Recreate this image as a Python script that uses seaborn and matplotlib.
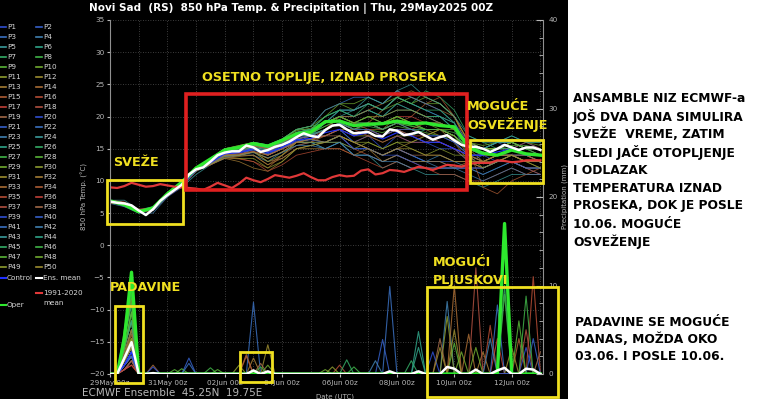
import matplotlib
matplotlib.use("Agg")

import numpy as np
import pandas as pd
import matplotlib.pyplot as plt
import seaborn as sns
from matplotlib.patches import Rectangle
from matplotlib.lines import Line2D
from matplotlib.ticker import MultipleLocator

# time axis = days since 29May2025 00z
steps_6h = np.arange(61) * 0.25
steps_12h = np.arange(31) * 0.5

date_ticks = [0, 2, 4, 6, 8, 10, 12, 14]
date_labels = ['29May 00z', '31May 00z', '02Jun 00z', '04Jun 00z',
               '06Jun 00z', '08Jun 00z', '10Jun 00z', '12Jun 00z']

# 850 hPa temperature, 6-hourly
ens_mean_t = [6.8, 6.6, 6.5, 6.2, 5.4, 4.7, 5.6, 6.9, 7.8, 8.6, 9.4, 11.0,
              11.8, 12.1, 13.0, 14.0, 14.4, 14.6, 14.6, 15.5, 15.2, 14.5, 14.8, 15.3,
              15.6, 16.1, 16.8, 17.4, 17.0, 16.8, 17.9, 18.6, 18.7, 18.0, 17.4, 17.5,
              17.6, 17.0, 16.9, 18.0, 17.8, 17.1, 17.3, 17.6, 17.0, 16.4, 16.8, 17.1,
              16.3, 15.6, 15.3, 15.3, 15.0, 14.5, 15.0, 15.6, 15.2, 14.8, 15.2, 15.2,
              14.8]
clim_t = [9.0, 8.9, 9.2, 9.7, 9.4, 9.1, 9.2, 9.5, 9.3, 9.1, 9.0, 8.9,
          8.8, 8.6, 9.1, 9.7, 9.3, 8.9, 9.6, 10.5, 10.1, 9.8, 10.3, 10.9,
          10.7, 10.5, 10.8, 11.2, 10.6, 10.1, 10.1, 10.6, 10.9, 10.7, 10.8, 11.6,
          11.8, 11.0, 11.2, 11.7, 11.6, 11.4, 11.8, 12.2, 12.0, 11.7, 12.1, 12.5,
          12.4, 12.2, 12.6, 12.8, 12.8, 12.8, 13.2, 13.1, 12.9, 13.0, 13.2, 13.2,
          13.2]

# 12-hourly runs
oper_t = [6.9, 6.3, 5.2, 5.8, 8.0, 9.8, 12.0, 13.4, 14.8, 15.2, 15.8, 15.4, 16.3, 17.3, 17.6,
          19.2, 19.3, 18.6, 18.8, 18.9, 19.3, 18.9, 19.0, 18.6, 18.4, 15.2, 14.3, 14.0, 14.8, 14.2, 14.0]
control_t = [6.8, 6.4, 5.3, 5.5, 7.7, 9.3, 11.7, 12.8, 14.2, 14.4, 15, 14.4, 15.2, 16.4, 16.6,
             17.5, 18, 17, 17.5, 16.5, 17.5, 17, 16, 16, 15, 14, 14, 14.5, 15, 14, 14]
member_t = [
    [7,6.5,5.5,5.5,8,9.5,12, 13,14,14,15,14,15,16,16.5, 17,18,16,17,15,17,16,16,15,15, 13,14,13,14,14,13],
    [6.5,6.5,5,6,7.5,9,11.5, 13,15,15,16,15,16,17,17, 19,21,20,21,20,22,21,20,19,18, 15,15,16,15,16,15],
    [7,6,5.5,5.5,8,10,12, 13.5,14,14.5,15,14,15,16,17, 17,18,16,15,14,15,14,13,13,12, 12,11,12,13,12,11],
    [6.5,6,5,5,7.5,9.5,11.5, 12.5,13.5,14,14,13,14.5,15.5,16, 16,16,15,15,14,15,14,13,14,13, 12,11,12,13,12,12],
    [7,7,5.5,6,8,9,11, 12.5,14,14,15,14.5,15,16,16, 15,16,14,14,12,13,12,11,11,11, 10,9,10,11,11,11],
    [6.8,6.4,5.3,5.6,7.8,9.5,12, 13,14.5,15,15.5,15,16,17.5,18, 20,21,21,22,21,23,22,21,20,18, 16,15,16,17,16,16],
    [7,6.5,5.5,5.5,8,9.5,12, 13.5,15,15,16,15,16.5,18,18, 20,21,21,22,21,23,22,24,23,21, 17,16,15,16,15,14],
    [6.7,6.5,5.3,5.8,7.9,9.3,11.8, 13.2,14.8,15,15.8,15.4,16,17.2,17.4, 18.5,19.5,18,18.5,18,19,18.5,18,18,17.5, 16,15,15,16,15,15],
    [6.9,6.3,5.2,5.5,7.7,9.4,11.7, 13,14.5,14.8,15.5,15,15.8,17,17.2, 18,19,18,18,17.5,18.5,18,17.5,17,16.5, 15.5,15,15,15.5,15.5,15],
    [6.8,6.6,5.5,5.7,8,9.6,12, 13.5,15,15.5,16,15.5,16.5,18,18.5, 21,22,21,22,21,22,23,22,22,20, 16,15.5,16,16.5,16,15.5],
    [7,6.5,5.4,5.4,7.8,9.2,11.5, 12.8,14,14,14.5,14,15,16.5,17, 18,19,17,17,16,17,17,16,16,15, 14,13,14,14,14,13],
    [6.6,6.4,5.2,5.6,7.6,9.2,11.6, 12.8,14.2,14.5,15,14.5,15,16,16.5, 17,18,18,19,18,20,19,18,17,16, 14,13,13,14,13,13],
    [6.8,6.5,5.4,5.6,7.8,9.4,11.8, 12.5,13.5,13,12,11.5,13,15,15.5, 16,17,16,15,14,15,16,17,18,16, 13,12,13,14,13,12],
    [7,6.7,5.5,5.8,8,9.5,12, 13,14,14,14,12.5,14,16,16, 18,19,18,19,21,23,24,23,22,20, 16,14,14,15,14,13],
    [6.7,6.4,5.3,5.5,7.8,9.3,11.6, 12.6,13.8,13.5,13,12,14,15.5,16, 17,18,17,18,18,19,20,22,23,20, 15,9,8,10,11,12],
    [6.9,6.6,5.4,5.7,8,9.6,12.2, 13.2,14.5,14.5,15,14,15,16,16.5, 16,17,15,14,13,14,13,12,12,12, 12,12,13,13,12,11],
    [6.8,6.5,5.4,5.6,7.8,9.4,11.8, 13,14.5,15,15.5,15,16,17,17, 18,20,19,20,19,20,20,19,19,18, 16,15,16,16,15,15],
    [7,6.6,5.6,5.6,8.1,9.6,12, 13.2,14.6,14.8,15.2,14.8,15.5,16.5,17, 18,19,18,17,16,17,16,16,17,17, 15,14,15,15,16,15],
    [6.6,6.3,5.2,5.4,7.6,9.2,11.6, 12.6,14,14.2,14.6,13,13.5,15,15.5, 16,17,16,17,17,18,17,16,16,15, 13,12,13,14,13,13],
    [6.9,6.5,5.4,5.6,7.9,9.5,11.9, 13,14.2,14.6,15.2,14.8,15.6,17,17.5, 19,20,19,19,18,19,18,17,17,16, 14,13,14,14,14,13],
    [6.8,6.4,5.3,5.5,7.7,9.3,11.7, 13,14.3,14.6,15,14.5,15.2,16.2,16.4, 16,17,15,15,14,15,14,13,13,13, 13,13,14,14,13,13],
    [7,6.6,5.5,5.7,8,9.5,12, 13.2,14.8,15,15.6,15.2,16,17.5,18, 19,21,21,22,21,23,22,21,20,19, 15,14,15,15,14,14],
    [6.7,6.5,5.4,5.6,7.8,9.4,11.8, 12.8,14.2,14.4,14.8,14.2,15,16,16, 15,16,14,14,13,14,13,13,12,12, 12,12,13,13,12,12],
    [6.9,6.5,5.4,5.6,7.9,9.5,11.9, 13,14.5,14.8,15.4,15,15.8,17,17.2, 19,20,20,21,20,21,21,20,20,18, 14,14,15,15,14,14],
    [6.8,6.4,5.3,5.5,7.7,9.4,11.8, 13.2,14.6,14.8,15.2,14.8,15.6,17,17, 18,19,17,18,17,18,17,18,18,17, 15,15,15,16,15,15],
    [7,6.6,5.5,5.7,8,9.6,12, 13.3,14.8,15,15.6,15.2,16.2,17.5,18, 19,21,20,21,20,22,21,20,20,19, 15,15,16,16,15,15],
    [6.8,6.5,5.4,5.6,7.8,9.5,11.9, 13,14.6,15,15.6,15.2,16,17.4,17.6, 19,20,19,19,18,19,19,18,18,17, 15,15,15,16,15,15],
    [6.7,6.4,5.3,5.5,7.8,9.4,11.8, 13.1,14.6,15,15.4,15,16,17.2,17.4, 18.5,19.5,18.5,19,18,19,18.5,18,18,17, 15,15,15,16,15,15],
    [6.9,6.5,5.4,5.6,8,9.5,12, 13.4,15,15.5,16,15.5,16.5,18,18.5, 20,22,22,23,22,23,22,23,22,20, 16,15,15,16,15,15],
    [6.8,6.5,5.4,5.6,7.8,9.4,11.8, 12.8,14,14,14.5,13,14,16,16, 16,16,15,16,15,16,15,14,15,14, 14,13,14,15,14,14],
    [7,6.6,5.5,5.7,8,9.5,11.9, 13,14.2,14.4,15,14,15,16.5,17, 18,19,19,20,20,21,21,20,19,18, 15,13,14,15,14,13],
    [6.7,6.4,5.3,5.5,7.7,9.3,11.7, 12.6,13.8,13.8,14,12.5,13.5,15,15, 15,15,14,15,13,14,13,13,13,12, 13,12,13,13,12,12],
    [6.9,6.6,5.4,5.7,7.9,9.5,11.9, 13,14.4,14.6,15,14.5,15.5,17,17.5, 19,20,20,21,22,24,23,22,21,20, 16,15,15,16,15,14],
    [6.8,6.5,5.4,5.6,7.8,9.4,11.8, 12.8,14,14,14.5,13.5,14.5,16,16.5, 18,19,18,19,18,19,18,17,16,15, 14,13,14,14,14,13],
    [6.6,6.3,5.2,5.4,7.6,9.2,11.6, 12.5,13.6,13.4,13,11.5,12.5,14,14.5, 15,15,14,13,12,13,12,12,11,11, 10,10,11,12,11,11],
    [7,6.7,5.6,5.8,8.1,9.6,12.1, 13.2,14.6,14.8,15.4,15,16,17,17.5, 19,20,19,18,17,18,17,17,16,15, 14,14,15,15,14,14],
    [6.8,6.5,5.4,5.6,7.8,9.4,11.8, 12.8,14.2,14.2,14.6,14,15,16,16.5, 17,18,17,18,17,18,18,19,19,18, 15,14,14,15,14,14],
    [6.9,6.5,5.4,5.6,7.9,9.4,11.8, 13,14.4,14.6,15,14.6,15.5,16.5,17, 17,17,16,15,14,15,14,14,14,13, 13,13,14,14,13,13],
    [6.7,6.4,5.3,5.5,7.7,9.3,11.7, 12.8,14.2,14.4,14.8,14.2,15.2,16.2,16.4, 16,17,15,15,14,14,13,12,12,12, 12,12,13,13,12,12],
    [6.8,6.5,5.4,5.6,7.8,9.4,11.8, 13,14.4,14.6,15,14.6,15.4,16.6,17, 18,19,18,18,17,18,18,17,17,16, 14,14,15,15,14,14],
    [7,6.6,5.5,5.7,8,9.6,12, 13.4,15,15.2,16,15.6,16.5,18,18.5, 21,22,23,23,22,24,23,22,21,19, 16,15,16,16,15,15],
    [6.7,6.4,5.3,5.5,7.7,9.3,11.7, 12.6,13.8,14,14.4,13.6,14.4,15.5,15.5, 15,16,14,14,13,13,12,12,12,12, 11,10,11,12,11,11],
    [6.9,6.5,5.4,5.6,7.9,9.5,11.9, 13.2,14.6,15,15.6,15.2,16,17.5,18, 19,20,21,23,22,24,25,23,22,20, 17,16,16,17,16,16],
    [6.8,6.5,5.4,5.6,7.8,9.4,11.8, 13,14.4,14.8,15.2,14.8,15.6,17,17.2, 18,19,18,19,18,19,18,18,18,17, 15,15,16,16,15,15],
    [6.8,6.4,5.3,5.5,7.7,9.3,11.8, 13.2,14.8,15.2,15.8,15.4,16.2,17.6,18, 20,21,20,22,21,23,22,21,21,19, 15,14,15,15,15,14],
    [7,6.6,5.5,5.7,8,9.5,12, 13.4,15,15.4,16,15.6,16.5,18,18.5, 19,20,19,20,19,20,19,19,19,18, 15,14,15,15,14,14],
    [6.7,6.4,5.3,5.5,7.8,9.4,11.8, 13.2,14.8,15.2,15.8,15.4,16.2,17.5,17.8, 19,20,19,20,19,20,19,18,18,17, 15,15,15,16,15,15],
    [6.9,6.5,5.4,5.6,7.9,9.5,11.9, 13.3,14.9,15.3,15.9,15.5,16.4,17.8,18.2, 19,20,19,19,19,20,19,19,18,18, 16,15,15,16,15,15],
    [6.8,6.5,5.4,5.6,7.8,9.4,11.7, 12.6,13.6,13.5,13.5,12,13,15,15.5, 16,17,16,16,15,16,16,17,18,17, 14,12,13,14,13,12],
    [7,6.6,5.5,5.7,8,9.5,11.9, 12.8,14,14,14.5,13.5,14.5,16,16.5, 16,17,16,15,14,15,15,14,14,13, 13,13,14,14,13,13],
]

# precipitation (mm / 6h): first event on 29May 12z and 18z for P1..P50
rain_12z = [1, 1.5, 1, 0.5, 3, 3, 4, 4, 5, 3, 2, 1.5, 2, 2, 1.5, 1, 0.5, 0.5, 1.5, 1,
            1, 1, 1.5, 0.5, 2.5, 4, 4, 3, 3, 1.5, 1, 2, 2.5, 1.5, 0.5, 0.5, 1, 1.5, 1, 1,
            1, 1.5, 1, 3, 4, 4.5, 3, 4, 2, 1.5]
rain_18z = [2.5, 3, 2, 1.5, 6, 7, 9, 8, 10, 6, 4, 3, 5, 4.5, 3, 2, 1.5, 1, 3.5, 2,
            2.5, 2, 3, 1.5, 5, 8, 9, 7, 6, 3, 2, 4, 5, 3, 1.5, 1, 2, 3, 2, 2.5,
            2, 3, 2.5, 6, 8, 9.5, 7, 8.5, 4, 3]
# later showers: (run, day, mm)
rain_spikes = [
    ('P14', 1.5, 1.0), ('P20', 1.5, 0.8), ('P2', 2.75, 1.8), ('P41', 2.75, 1.2),
    ('P9', 2.5, 0.6), ('P28', 2.25, 0.5), ('P8', 3.5, 0.7), ('P47', 3.75, 0.5),
    ('P22', 5.0, 8.1), ('P15', 4.75, 2.0), ('P34', 4.75, 2.2), ('P12', 5.5, 3.3),
    ('P13', 5.0, 1.8), ('P38', 5.25, 1.2), ('P29', 5.5, 1.0), ('P46', 5.25, 0.8),
    ('P11', 4.5, 1.0), ('P30', 7.75, 0.8), ('P16', 8.0, 1.0), ('P45', 8.25, 1.6),
    ('P27', 8.5, 0.8), ('P10', 7.5, 0.5), ('P21', 9.5, 3.9), ('P3', 9.75, 9.9),
    ('P23', 9.25, 1.5), ('P25', 10.75, 4.8), ('P44', 10.75, 3.0), ('P26', 10.5, 1.5),
    ('P4', 11.75, 8.2), ('P11', 11.75, 6.5), ('P12', 12.0, 5.0), ('P19', 11.5, 4.0),
    ('P33', 12.0, 10.0), ('P20', 11.25, 2.5), ('P9', 12.0, 3.5), ('P31', 11.5, 3.0),
    ('P18', 12.75, 12.0), ('P14', 12.5, 4.5), ('P48', 12.25, 2.5), ('P29', 12.75, 3.0),
    ('P41', 13.5, 7.8), ('P42', 13.25, 4.0), ('P35', 13.25, 5.5), ('P13', 13.0, 2.5),
    ('P7', 13.75, 10.0), ('P8', 13.75, 9.0), ('P46', 14.5, 8.8), ('P47', 14.25, 6.0),
    ('P16', 14.75, 11.0), ('P37', 14.5, 5.0), ('P15', 14.25, 4.0), ('P1', 14.5, 3.0),
    ('P21', 14.75, 4.0), ('P38', 15.0, 2.5), ('P50', 14.0, 3.0), ('P17', 13.5, 4.0),
]
oper_rain = [(0.5, 4.0), (0.75, 11.5), (13.75, 17.0)]
control_rain = [(0.5, 1.0), (0.75, 2.5)]
mean_rain = [(0.5, 1.8), (0.75, 3.6), (1.5, 0.1), (5.0, 0.4), (5.5, 0.3), (9.75, 0.3),
             (10.75, 0.3), (11.75, 0.8), (12.0, 0.6), (12.75, 0.5), (13.5, 0.4),
             (13.75, 0.7), (14.5, 0.6), (14.75, 0.5)]

# colours cycle through 19 shades, blue -> green -> brown -> red
shades = ['#2f4fd0', '#3560c8', '#3a70c0', '#4080b0', '#3a9a9a', '#30a488', '#34ac66',
          '#40b448', '#58b438', '#70aa30', '#8c9c30', '#9c8c30', '#a47c34', '#a86c34',
          '#ac5c34', '#b44c34', '#c04038', '#b05040', '#a06848']
names = [f'P{i}' for i in range(1, 51)]
pal = {n: shades[i % 19] for i, n in enumerate(names)}
OPER_C, MEAN_C, CLIM_C, CTRL_C = '#2ee82e', 'white', '#e03838', '#2030ff'
YEL, RED = '#f0e020', '#e02020'

# long tables for seaborn
df_t = pd.DataFrame([(n, d, v) for n, row in zip(names, member_t) for d, v in zip(steps_12h, row)],
                    columns=['member', 'day', 'temp'])

def to_series(spikes):
    arr = np.zeros(len(steps_6h))
    for d, v in spikes:
        arr[int(round(d / 0.25))] = v
    return arr

rain = {n: np.zeros(len(steps_6h)) for n in names}
for n, a, b in zip(names, rain_12z, rain_18z):
    rain[n][2], rain[n][3] = a, b
for n, d, v in rain_spikes:
    rain[n][int(round(d / 0.25))] = v
df_p = pd.DataFrame([(n, d, v) for n in names for d, v in zip(steps_6h, rain[n])],
                    columns=['member', 'day', 'mm'])

# figure: black chart area on the left, white notes panel on the right
W, H = 770, 399
fx = lambda x: x / W
fy = lambda y: 1 - y / H

fig = plt.figure(figsize=(7.7, 3.99), dpi=100, facecolor='black')
fig.add_artist(Rectangle((fx(568), 0), 1, 1, transform=fig.transFigure,
                         facecolor='white', edgecolor='none', zorder=0))
ax = fig.add_axes([fx(110), fy(374), (543 - 110) / W, (374 - 20) / H])
ax.set_facecolor('black')
ax2 = ax.twinx()

# temperature
sns.lineplot(data=df_t, x='day', y='temp', hue='member', palette=pal, linewidth=0.6,
             alpha=0.8, legend=False, estimator=None, ax=ax)
sns.lineplot(x=steps_12h, y=control_t, color=CTRL_C, linewidth=0.8, ax=ax)
sns.lineplot(x=steps_12h, y=oper_t, color=OPER_C, linewidth=2.4, ax=ax)
sns.lineplot(x=steps_6h, y=clim_t, color=CLIM_C, linewidth=1.6, ax=ax)
sns.lineplot(x=steps_6h, y=ens_mean_t, color=MEAN_C, linewidth=1.8, ax=ax)

# precipitation
sns.lineplot(data=df_p, x='day', y='mm', hue='member', palette=pal, linewidth=0.8,
             alpha=0.85, legend=False, estimator=None, ax=ax2)
sns.lineplot(x=steps_6h, y=to_series(control_rain), color=CTRL_C, linewidth=0.9, ax=ax2)
sns.lineplot(x=steps_6h, y=to_series(oper_rain), color=OPER_C, linewidth=2.4, ax=ax2)
sns.lineplot(x=steps_6h, y=to_series(mean_rain), color=MEAN_C, linewidth=1.8, ax=ax2)

# axes look
ax.set_xlim(0, 15.09)
ax.set_ylim(-20, 35)
ax2.set_ylim(0, 40)
ax.set_yticks(range(-20, 36, 5))
ax.set_xticks(date_ticks, date_labels)
ax.set_xticks(np.arange(0, 16), minor=True)
ax.grid(axis='x', which='both', color='#505050', linestyle=(0, (1, 2)), linewidth=0.6)
ax.grid(axis='y', which='major', color='#505050', linestyle=(0, (1, 2)), linewidth=0.6)
ax.tick_params(axis='x', which='minor', length=0)
ax.tick_params(colors='#b8b8b8', labelsize=5.2, length=2, pad=2)
ax2.yaxis.set_major_locator(MultipleLocator(10))
ax2.yaxis.set_minor_locator(MultipleLocator(2))
ax2.tick_params(axis='y', which='both', colors='#b8b8b8', labelsize=5.2, direction='in', pad=4)
ax2.tick_params(axis='y', which='major', length=5)
ax2.tick_params(axis='y', which='minor', length=3)
for a in (ax, ax2):
    for s in a.spines.values():
        s.set_visible(False)
ax.spines['left'].set_visible(True)
ax.spines['left'].set_color('#909090')
ax2.spines['right'].set_visible(True)
ax2.spines['right'].set_color('#909090')

ax.set_xlabel('Date (UTC)', color='#b8b8b8', fontsize=5)
ax.xaxis.set_label_coords((335 - 110) / 433, (374 - 394) / 354)
ax.set_ylabel('850 hPa Temp. (°C)', color='#b8b8b8', fontsize=5)
ax.yaxis.set_label_coords((88 - 110) / 433, 0.5)
ax2.set_ylabel('Precipitation (mm)', color='#b8b8b8', fontsize=5)
ax2.yaxis.set_label_coords((561 - 110) / 433, 0.5)

fig.text(fx(291), fy(9), 'Novi Sad  (RS)  850 hPa Temp. & Precipitation | Thu, 29May2025 00Z',
         color='white', fontsize=7.5, fontweight='bold', ha='center', va='center')
fig.text(fx(82), fy(398), 'ECMWF Ensemble  45.25N  19.75E', color='#b8b8b8',
         fontsize=7.5, ha='left', va='bottom')

# legend (two columns at the far left)
leg_fs = 5.2
def leg_entry(x, y, label, color, lw=1.2):
    fig.add_artist(Line2D([fx(x), fx(x + 6)], [fy(y), fy(y)], transform=fig.transFigure,
                          color=color, linewidth=lw))
    fig.text(fx(x + 7), fy(y), label, color='#d8d8d8', fontsize=leg_fs, va='center')

for k in range(25):
    y = 27 + 10 * k
    leg_entry(0, y, names[2 * k], pal[names[2 * k]])
    leg_entry(36, y, names[2 * k + 1], pal[names[2 * k + 1]])
leg_entry(0, 278, 'Control', CTRL_C, 1.5)
leg_entry(36, 278, 'Ens. mean', MEAN_C, 1.5)
leg_entry(36, 293, '1991-2020', CLIM_C, 1.5)
fig.text(fx(43), fy(303), 'mean', color='#d8d8d8', fontsize=leg_fs, va='center')
leg_entry(0, 305, 'Oper', OPER_C, 1.5)

# annotations (boxes and labels in data units of the temperature axis)
boxes = [((-0.10, 3.3), 2.64, 6.8, YEL), ((2.65, 8.6), 9.79, 14.9, RED),
         ((12.54, 9.7), 2.55, 6.7, YEL), ((0.17, -21.4), 0.98, 12.0, YEL),
         ((4.53, -21.2), 1.11, 4.6, YEL), ((11.05, -23.6), 4.55, 17.1, YEL)]
for (x0, y0), w, h, c in boxes:
    ax2.add_patch(Rectangle((x0, y0), w, h, transform=ax.transData, fill=False,
                            edgecolor=c, linewidth=2.6 if c == RED else 2.0,
                            clip_on=False, zorder=10))
notes = [(0.1, 12.8, 'SVEŽE'), (3.2, 26.0, 'OSETNO TOPLIJE, IZNAD PROSEKA'),
         (12.44, 21.5, 'MOGUĆE'), (12.44, 18.7, 'OSVEŽENJE'), (0.0, -6.5, 'PADAVINE'),
         (11.25, -2.6, 'MOGUĆI'), (11.25, -5.4, 'PLJUSKOVI')]
for x0, y0, t in notes:
    ax2.text(x0, y0, t, transform=ax.transData, color=YEL, fontsize=9.2,
             fontweight='bold', va='center', ha='left', zorder=11, clip_on=False)

# notes panel
panel_top = ['ANSAMBLE NIZ ECMWF-a', 'JOŠ DVA DANA SIMULIRA', 'SVEŽE  VREME, ZATIM',
             'SLEDI JAČE OTOPLJENJE', 'I ODLAZAK', 'TEMPERATURA IZNAD',
             'PROSEKA, DOK JE POSLE', '10.06. MOGUĆE', 'OSVEŽENJE']
panel_bottom = ['PADAVINE SE MOGUĆE', 'DANAS, MOŽDA OKO', '03.06. I POSLE 10.06.']
for i, t in enumerate(panel_top):
    fig.text(fx(573), fy(98 + 18 * i), t, color='black', fontsize=8.8,
             fontweight='bold', va='center')
for i, t in enumerate(panel_bottom):
    fig.text(fx(575), fy(322 + 17.5 * i), t, color='black', fontsize=8.8,
             fontweight='bold', va='center')

fig.savefig('out.png', dpi=100, facecolor=fig.get_facecolor())
